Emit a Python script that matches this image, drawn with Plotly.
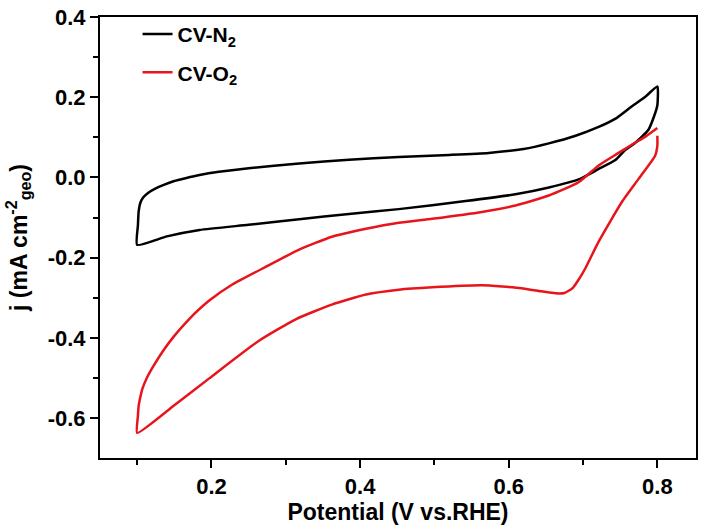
import plotly.graph_objects as go

# CV in N2 (black loop)
n2_potential = [0.100, 0.101, 0.102, 0.104, 0.108, 0.115, 0.125, 0.135, 0.150, 0.165,
                0.184, 0.210, 0.250, 0.318, 0.385, 0.452, 0.520, 0.573, 0.620, 0.654,
                0.690, 0.721, 0.745, 0.765, 0.785, 0.800, 0.800, 0.797, 0.788, 0.770,
                0.757, 0.744, 0.720, 0.694, 0.654, 0.609, 0.542, 0.452, 0.385, 0.318,
                0.250, 0.184, 0.140, 0.100]
n2_current = [-0.168, -0.120, -0.085, -0.065, -0.050, -0.038, -0.027, -0.019, -0.009, -0.002,
              0.006, 0.014, 0.023, 0.035, 0.044, 0.051, 0.056, 0.061, 0.071, 0.085,
              0.104, 0.126, 0.148, 0.176, 0.203, 0.227, 0.180, 0.160, 0.119, 0.086,
              0.069, 0.044, 0.020, -0.005, -0.025, -0.042, -0.059, -0.079, -0.091, -0.104,
              -0.118, -0.131, -0.147, -0.168]

# CV in O2 (red loop)
o2_potential = [0.800, 0.785, 0.765, 0.745, 0.721, 0.694, 0.654, 0.609, 0.564, 0.497,
                0.452, 0.408, 0.362, 0.318, 0.274, 0.228, 0.197, 0.170, 0.150, 0.135,
                0.122, 0.113, 0.107, 0.104, 0.102, 0.101, 0.100,
                0.150, 0.197, 0.264, 0.314, 0.362, 0.408, 0.452, 0.497, 0.564, 0.617,
                0.644, 0.663, 0.675, 0.686, 0.694, 0.703, 0.721, 0.752, 0.775, 0.797, 0.800, 0.800]
o2_current = [0.123, 0.103, 0.081, 0.058, 0.030, -0.012, -0.045, -0.070, -0.086, -0.103,
              -0.113, -0.128, -0.148, -0.180, -0.222, -0.267, -0.307, -0.353, -0.395, -0.432,
              -0.470, -0.500, -0.527, -0.550, -0.570, -0.595, -0.637,
              -0.568, -0.501, -0.407, -0.353, -0.317, -0.292, -0.280, -0.274, -0.269, -0.276,
              -0.284, -0.289, -0.288, -0.276, -0.255, -0.227, -0.160, -0.062, -0.003, 0.054, 0.080, 0.104]

x_tickvals = [0.2, 0.4, 0.6, 0.8]
x_ticktext = ["0.2", "0.4", "0.6", "0.8"]
y_tickvals = [-0.6, -0.4, -0.2, 0.0, 0.2, 0.4]
y_ticktext = ["-0.6", "-0.4", "-0.2", "0.0", "0.2", "0.4"]

FONT = "Liberation Sans, Arial, sans-serif"

fig = go.Figure()
fig.add_trace(go.Scatter(x=n2_potential, y=n2_current, mode="lines",
                         name="CV-N<sub>2</sub>", legendgroup="n2",
                         line=dict(color="black", width=2.5, shape="spline", smoothing=0.5)))
fig.add_trace(go.Scatter(x=o2_potential, y=o2_current, mode="lines",
                         name="CV-O<sub>2</sub>", legendgroup="o2",
                         line=dict(color="#e8141b", width=2.5, shape="spline", smoothing=0.5)))

axis_common = dict(
    showline=True, linewidth=2, linecolor="black", mirror=True,
    ticks="outside", ticklen=8, tickwidth=2, tickcolor="black",
    showgrid=False, zeroline=False, ticklabeloverflow="allow",
    tickfont=dict(family=FONT, size=22, color="black", weight="bold"),
    minor=dict(ticks="outside", ticklen=5, tickwidth=2, tickcolor="black", dtick=0.1, showgrid=False),
)

fig.update_layout(
    width=703, height=529,
    margin=dict(l=100, r=5, t=14, b=71),
    plot_bgcolor="white", paper_bgcolor="white",
    xaxis=dict(range=[0.05, 0.852], tickvals=x_tickvals, ticktext=x_ticktext,
               automargin=True,
               title=dict(text="Potential (V vs.RHE)", standoff=4,
                          font=dict(family=FONT, size=23, color="black", weight="bold")),
               **axis_common),
    yaxis=dict(range=[-0.6995, 0.4], tickvals=y_tickvals, ticktext=y_ticktext,
               automargin=True,
               title=dict(text="j (mA cm<sup>-2</sup><sub>geo</sub>)", standoff=14,
                          font=dict(family=FONT, size=23, color="black", weight="bold")),
               **axis_common),
    legend=dict(x=0.063, y=1.007, xanchor="left", yanchor="top",
                bgcolor="rgba(0,0,0,0)", tracegroupgap=8,
                font=dict(family=FONT, size=21, color="black", weight="bold")),
)

# remove the browser's default 8px page margin so the figure fills the window exactly
fig.write_html("out.html", config={"displayModeBar": False},
               post_script="document.body.style.margin='0';")
